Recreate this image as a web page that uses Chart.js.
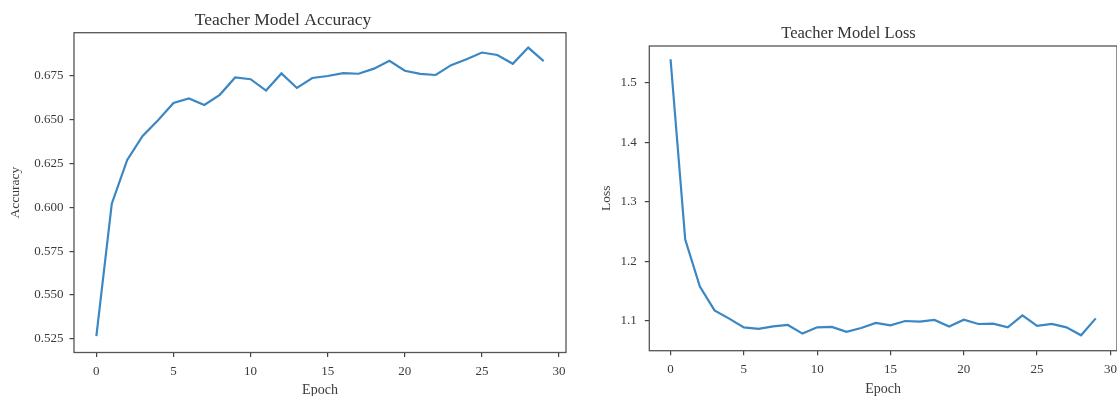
<!DOCTYPE html>
<html lang="en">
<head>
    <meta charset="UTF-8">
    <title>Teacher Model Accuracy / Loss</title>
    <script src="https://cdn.jsdelivr.net/npm/chart.js"></script>
    <style>
        html, body { margin: 0; padding: 0; background: #fff; }
        #wrap { position: relative; width: 1117px; height: 396px; }
        .box { position: absolute; top: 0; height: 396px; }
    </style>
</head>
<body>
<div id="wrap">
    <div class="box" style="left:0;width:580px;"><canvas id="accChart"></canvas></div>
    <div class="box" style="left:580px;width:537px;"><canvas id="lossChart"></canvas></div>
</div>

<script>
    // values
    const epochs = [0,1,2,3,4,5,6,7,8,9,10,11,12,13,14,15,16,17,18,19,20,21,22,23,24,25,26,27,28,29];
    const accuracy = [0.5265, 0.602, 0.627, 0.6406, 0.6496, 0.6594, 0.662, 0.6583, 0.6641, 0.674,
                      0.673, 0.6665, 0.6763, 0.668, 0.6737, 0.6748, 0.6765, 0.6761, 0.679, 0.6835,
                      0.6778, 0.676, 0.6754, 0.681, 0.6844, 0.6882, 0.6868, 0.6818, 0.691, 0.6833];
    const loss = [1.539, 1.2367, 1.1578, 1.1178, 1.104, 1.0894, 1.0867, 1.091, 1.0933, 1.0789,
                  1.0894, 1.09, 1.0817, 1.0883, 1.0967, 1.0928, 1.1, 1.099, 1.1017, 1.0906,
                  1.1022, 1.095, 1.0956, 1.0894, 1.1094, 1.0917, 1.095, 1.0894, 1.0761, 1.1044];
    const xTicks = [0, 5, 10, 15, 20, 25, 30];
    const accTicks = [0.525, 0.550, 0.575, 0.600, 0.625, 0.650, 0.675];
    const lossTicks = [1.1, 1.2, 1.3, 1.4, 1.5];

    Chart.defaults.font.family = "'Liberation Serif', 'DejaVu Serif', serif";
    Chart.defaults.color = '#3a3a3a';
    Chart.defaults.animation = false;

    // matplotlib-style box around the plot area
    const frame = {
        id: 'frame',
        afterDraw(chart) {
            const a = chart.chartArea, ctx = chart.ctx;
            ctx.save();
            ctx.strokeStyle = '#555';
            ctx.lineWidth = 1.3;
            ctx.strokeRect(a.left, a.top, a.right - a.left, a.bottom - a.top);
            ctx.restore();
        }
    };

    function makeChart(id, cfg) {
        const pts = epochs.map((e, i) => ({ x: e, y: cfg.values[i] }));
        return new Chart(document.getElementById(id), {
            type: 'line',
            data: {
                datasets: [{
                    data: pts,
                    borderColor: '#3a87c3',
                    borderWidth: 2.2,
                    pointRadius: 0,
                    tension: 0
                }]
            },
            options: {
                responsive: true,
                maintainAspectRatio: false,
                layout: { padding: { left: 0, right: cfg.padRight, top: 0, bottom: 0 } },
                plugins: {
                    legend: { display: false },
                    tooltip: { enabled: false },
                    title: {
                        display: true,
                        text: cfg.title,
                        color: '#333',
                        font: { size: cfg.titleSize, weight: 'normal', lineHeight: 1 },
                        padding: cfg.titlePad
                    }
                },
                scales: {
                    x: {
                        type: 'linear',
                        min: -1.45,
                        max: 30.45,
                        border: { display: false },
                        grid: { drawOnChartArea: false, drawTicks: true, tickLength: 4.5, color: '#444', lineWidth: 1.2 },
                        afterBuildTicks: s => { s.ticks = xTicks.map(v => ({ value: v })); },
                        ticks: { font: { size: 13 }, padding: cfg.xTickPad, maxRotation: 0, callback: v => String(v) },
                        title: { display: true, text: 'Epoch', font: { size: 14, lineHeight: 1 }, padding: { top: 0, bottom: cfg.xTitlePad } },
                        afterFit: s => { s.height = cfg.xHeight; s.paddingLeft = 0; s.paddingRight = 0; }
                    },
                    y: {
                        min: cfg.yMin,
                        max: cfg.yMax,
                        border: { display: false },
                        grid: { drawOnChartArea: false, drawTicks: true, tickLength: 4.5, color: '#444', lineWidth: 1.2 },
                        afterBuildTicks: s => { s.ticks = cfg.yTicks.map(v => ({ value: v })); },
                        ticks: { font: { size: 13 }, padding: cfg.yTickPad, callback: v => cfg.fmt(v) },
                        title: { display: true, text: cfg.yLabel, font: { size: 13.5, lineHeight: 1 }, padding: { top: cfg.yTitlePad, bottom: 0 } },
                        afterFit: s => { s.width = cfg.yWidth; s.paddingTop = 0; s.paddingBottom = 0; }
                    }
                }
            },
            plugins: [frame]
        });
    }

    makeChart('accChart', {
        values: accuracy,
        title: 'Teacher Model Accuracy',
        titleSize: 17.5,
        titlePad: { top: 12, bottom: 3.2 },
        yLabel: 'Accuracy',
        yMin: 0.5172,
        yMax: 0.6995,
        yTicks: accTicks,
        fmt: v => v.toFixed(3),
        padRight: 14,
        yWidth: 74,
        yTickPad: 6,
        yTitlePad: 9,
        xHeight: 43.5,
        xTickPad: 7,
        xTitlePad: -1.5
    });

    makeChart('lossChart', {
        values: loss,
        title: 'Teacher Model Loss',
        titleSize: 16.5,
        titlePad: { top: 25.2, bottom: 4.3 },
        yLabel: 'Loss',
        yMin: 1.0502,
        yMax: 1.5612,
        yTicks: lossTicks,
        fmt: v => v.toFixed(1),
        padRight: 0,
        yWidth: 69.3,
        yTickPad: 8,
        yTitlePad: 19.5,
        xHeight: 45.3,
        xTickPad: 7,
        xTitlePad: 0
    });
</script>
</body>
</html>
